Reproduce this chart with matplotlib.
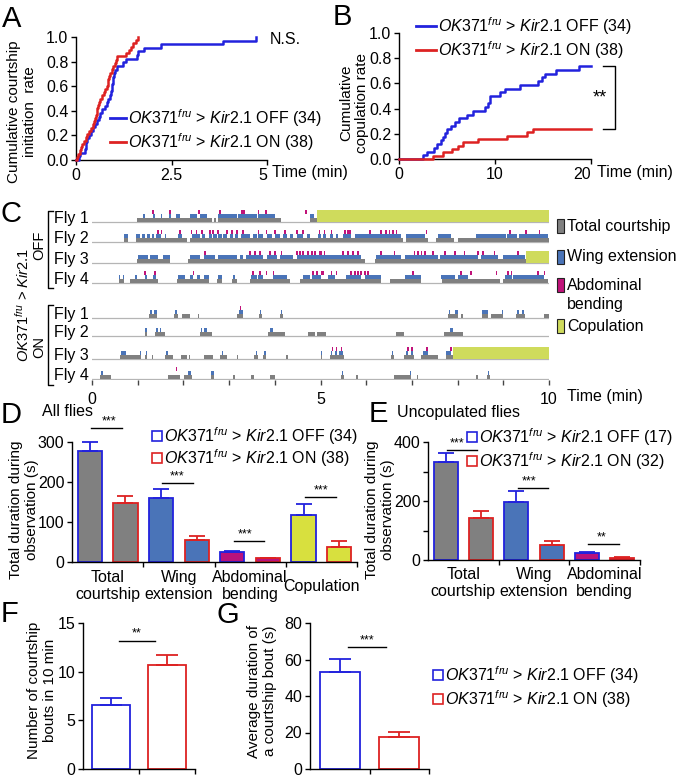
import matplotlib
matplotlib.use('Agg')
import matplotlib.pyplot as plt
import numpy as np
from matplotlib.patches import Rectangle
from matplotlib.lines import Line2D

plt.rcParams['font.family'] = ['Liberation Sans', 'DejaVu Sans']
plt.rcParams['mathtext.fontset'] = 'custom'
plt.rcParams['mathtext.rm'] = 'Liberation Sans'
plt.rcParams['mathtext.it'] = 'Liberation Sans:italic'
plt.rcParams['mathtext.bf'] = 'Liberation Sans:bold'

# ---------------- data ----------------
# Panel A: courtship initiation latencies (min)
A_off = [0.08, 0.10, 0.24, 0.25, 0.27, 0.30, 0.35, 0.40, 0.45, 0.50, 0.55, 0.60, 0.63, 0.67,
         0.75, 0.80, 0.85, 0.88, 0.91, 0.94, 0.95, 0.96, 0.98, 0.99, 1.03, 1.07, 1.22, 1.30,
         1.60, 1.63, 1.77, 2.22, 3.85, 4.72]
A_on = [0.03, 0.06, 0.10, 0.13, 0.17, 0.20, 0.25, 0.30, 0.35, 0.40, 0.45, 0.48, 0.50, 0.52,
        0.54, 0.56, 0.58, 0.60, 0.63, 0.68, 0.72, 0.76, 0.80, 0.83, 0.85, 0.87, 0.90, 0.95,
        0.98, 1.01, 1.05, 1.07, 1.30, 1.40, 1.45, 1.50, 1.58, 1.63]
N_off, N_on = 34, 38
# Panel B: copulation latencies (min)
B_off = [2.5, 2.9, 3.6, 4.0, 4.4, 4.6, 4.8, 5.0, 5.4, 5.8, 6.2, 7.05, 7.7, 9.0, 9.3, 9.5, 9.5,
         10.5, 11.0, 12.6, 14.5, 14.9, 15.2, 16.4, 18.7]
B_on = [3.5, 4.6, 5.5, 6.1, 6.7, 8.2, 11.2, 13.3, 14.0]

# Panel C: ethograms (min)
C_total = [
    [(0.98, 2.62), (2.66, 2.72), (2.75, 4.13), (4.77, 4.93)],
    [(0.69, 0.79), (0.96, 2.07), (2.14, 6.81), (6.88, 7.35), (7.53, 7.93), (8.0, 10.0)],
    [(0.98, 1.71), (2.11, 5.97), (6.19, 9.5)],
    [(0.58, 0.69), (0.83, 1.45), (1.87, 2.55), (2.73, 2.85), (3.06, 3.17), (3.46, 4.33),
     (4.55, 6.33), (6.51, 7.21), (7.65, 8.92), (8.99, 9.98)],
    [(1.25, 1.42), (1.80, 1.89), (1.98, 2.14), (2.31, 2.35), (3.18, 3.31), (3.66, 3.71),
     (4.11, 4.17), (7.79, 8.01), (8.08, 8.12), (8.54, 8.67), (8.74, 8.99), (9.27, 9.47), (9.89, 10.0)],
    [(1.15, 1.21), (1.38, 1.60), (2.36, 2.62), (3.86, 4.22), (4.72, 4.88), (4.92, 5.13),
     (6.66, 6.83), (7.70, 8.12)],
    [(0.61, 1.07), (1.17, 1.21), (1.31, 1.34), (1.60, 1.77), (1.94, 2.07), (2.12, 2.14),
     (2.46, 2.64), (2.80, 2.96), (3.17, 3.19), (3.55, 3.63), (3.75, 3.81), (4.24, 4.28),
     (5.01, 5.04), (5.20, 5.51), (6.55, 6.61), (6.83, 7.04), (7.21, 7.57), (7.74, 7.90)],
    [(0.18, 0.41), (1.66, 1.93), (2.02, 2.18), (2.60, 2.67), (3.09, 3.14), (3.49, 3.54),
     (3.89, 4.00), (5.44, 5.51), (5.77, 5.83), (6.61, 6.99), (7.11, 7.13), (8.41, 8.45), (8.64, 8.70)],
]
C_wing = [
    [(1.12, 1.16), (1.34, 1.38), (1.50, 1.54), (1.69, 1.73), (1.84, 1.93), (2.14, 2.29), (2.36, 2.52),
     (2.76, 3.17), (3.20, 3.60), (3.64, 4.00), (4.77, 4.86)],
    [(0.69, 0.79), (0.96, 1.05), (1.09, 1.16), (1.20, 1.27), (1.31, 1.36), (1.41, 1.52), (1.60, 1.63),
     (1.89, 1.96), (2.18, 2.36), (2.40, 2.47), (2.55, 2.62), (2.65, 2.73), (2.76, 2.84), (2.87, 2.95),
     (3.02, 3.09), (3.13, 3.20), (3.27, 3.46), (3.53, 3.60), (3.64, 3.75), (3.82, 3.93), (4.00, 4.11),
     (4.19, 4.26), (4.33, 4.40), (4.48, 4.62), (4.70, 4.77), (4.95, 5.02), (5.05, 5.13), (5.20, 5.27),
     (5.35, 5.38), (5.49, 5.67), (5.75, 6.77), (6.88, 7.28), (7.57, 7.86), (8.41, 9.06), (9.08, 9.31),
     (9.34, 9.98)],
    [(1.01, 1.23), (1.27, 1.45), (1.56, 1.71), (2.14, 2.36), (2.44, 2.69), (2.76, 3.17), (3.24, 3.31),
     (3.38, 3.75), (3.82, 4.04), (4.11, 4.40), (4.48, 5.89), (6.22, 6.77), (6.84, 7.57), (7.61, 8.45),
     (8.52, 8.88), (8.99, 9.47)],
    [(0.58, 0.62), (0.67, 0.70), (0.94, 0.98), (1.16, 1.20), (1.33, 1.41), (1.89, 2.03), (2.14, 2.22),
     (2.29, 2.36), (2.44, 2.55), (2.76, 2.84), (3.09, 3.13), (3.49, 3.60), (3.64, 3.75), (3.97, 4.26),
     (4.62, 4.77), (4.81, 5.02), (5.16, 5.31), (5.56, 5.89), (5.97, 6.33), (6.84, 7.21), (7.64, 7.94),
     (8.01, 8.23), (9.03, 9.18), (9.21, 9.90)],
    [(1.27, 1.31), (1.36, 1.42), (1.82, 1.87), (3.22, 3.30), (3.67, 3.70), (4.13, 4.16), (7.81, 7.84),
     (7.94, 8.00), (8.54, 8.67), (8.97, 9.00), (9.30, 9.34), (9.41, 9.45)],
    [(1.16, 1.20), (1.41, 1.44), (1.49, 1.52), (2.38, 2.41), (2.44, 2.47), (2.48, 2.51), (3.90, 3.95),
     (7.83, 7.90)],
    [(0.63, 0.74), (1.04, 1.07), (1.18, 1.20), (1.63, 1.66), (2.84, 2.87), (3.58, 3.62), (3.77, 3.80),
     (5.01, 5.04), (5.22, 5.26), (5.31, 5.36), (5.40, 5.49), (6.56, 6.59), (6.88, 6.91), (6.97, 7.02),
     (7.24, 7.35), (7.75, 7.86)],
    [(0.20, 0.23), (2.11, 2.16), (2.61, 2.66), (5.46, 5.50), (6.95, 6.99), (8.66, 8.69)],
]
C_abd = [
    [1.34, 1.71, 2.34, 2.80, 3.28, 3.32, 3.64, 3.81, 4.68],
    [1.45, 1.52, 1.93, 2.18, 2.29, 2.40, 2.58, 2.65, 2.76, 2.95, 3.06, 3.17, 3.31, 3.64, 3.82, 4.00,
     4.22, 4.48, 4.62, 4.98, 5.09, 5.24, 5.53, 5.60, 5.64, 6.08, 6.33, 6.44, 6.51, 6.59, 6.66, 7.32,
     9.14, 9.50, 9.79],
    [2.47, 3.46, 3.57, 3.68, 3.89, 4.00, 4.15, 4.48, 4.55, 4.62, 4.73, 4.81, 4.88, 4.99, 5.02, 5.09,
     5.49, 5.60, 5.71, 5.82, 6.33, 6.62, 7.06, 7.13, 7.21, 7.28, 7.46, 7.72, 7.94, 8.15, 8.45, 8.56,
     8.81, 9.32],
    [1.16, 1.38, 2.22, 3.53, 3.68, 3.82, 3.97, 4.84, 4.92, 5.03, 5.05, 5.24, 5.35, 5.67, 5.75, 5.82,
     5.89, 5.97, 6.04, 7.02, 8.08, 8.30, 8.85, 9.10, 9.18, 9.76, 9.90],
    [3.25],
    [],
    [5.26, 5.35, 5.46, 6.91, 7.00, 7.33, 7.86],
    [1.85],
]
C_cop = [[(4.93, 10.0)], [], [(9.5, 10.0)], [], [], [], [(7.90, 10.0)], []]
FLY_NAMES = ['Fly 1', 'Fly 2', 'Fly 3', 'Fly 4', 'Fly 1', 'Fly 2', 'Fly 3', 'Fly 4']

# Panel D: all flies (s)
CATS_D = ['Total\ncourtship', 'Wing\nextension', 'Abdominal\nbending', 'Copulation']
D_off = [278, 160, 26, 118]
D_off_err = [22, 22, 2.5, 26]
D_on = [147, 56, 9, 37]
D_on_err = [18, 9, 2, 15]
D_sig = ['***', '***', '***', '***']
D_sig_y = [335, 197, 53, 163]
D_sig_x = [0.52, 1.48, 2.43, 3.49]
# Panel E: uncopulated flies (s)
CATS_E = ['Total\ncourtship', 'Wing\nextension', 'Abdominal\nbending']
E_off = [331, 196, 23]
E_off_err = [33, 37, 4]
E_on = [143, 51, 7]
E_on_err = [22, 13, 2]
E_sig = ['***', '***', '**']
E_sig_y = [373, 244, 54]
E_sig_x = [0.41, 1.43, 2.45]
# Panel F: number of bouts
F_vals = [6.6, 10.7]
F_err = [0.7, 1.05]
# Panel G: average bout duration (s)
G_vals = [53.2, 17.8]
G_err = [7.2, 2.7]

LBL_OFF = r'$\mathit{OK371}^{\mathit{fru}}$ > $\mathit{Kir2.1}$ OFF'
LBL_ON = r'$\mathit{OK371}^{\mathit{fru}}$ > $\mathit{Kir2.1}$ ON'

# ---------------- style ----------------
BLUE = '#2222dd'
RED = '#dd2222'
GRAY = '#808080'
WBLUE = '#4a74b8'
MAG = '#c0137a'
COP = '#cfdb5c'
FILLS = [GRAY, WBLUE, '#b8127c', '#d8e03e']
FS = 11.5
FSR = 11

W, H = 677, 778
fig = plt.figure(figsize=(W / 100, H / 100), dpi=100)


def fx(x):
    return x / W


def fy(y):
    return 1 - y / H


def add_ax(x0, y0, x1, y1):
    return fig.add_axes([x0 / W, 1 - y1 / H, (x1 - x0) / W, (y1 - y0) / H])


def ftext(x, y, s, **kw):
    kw.setdefault('fontsize', FS)
    fig.text(x / W, 1 - y / H, s, **kw)


def style(ax):
    for s in ['top', 'right']:
        ax.spines[s].set_visible(False)
    for s in ['left', 'bottom']:
        ax.spines[s].set_linewidth(1.0)
    ax.tick_params(direction='out', length=3.5, width=1.0, labelsize=FS, pad=2)


def cum(events, n, tend=None):
    t = np.concatenate([[0.0], np.sort(events)])
    y = np.arange(len(t)) / n
    if tend is not None:
        t = np.append(t, tend)
        y = np.append(y, y[-1])
    return t, y


def letter(x, y, s):
    ftext(x, y, s, fontsize=21, va='baseline', ha='left')


def line_legend(x0, x1, y, color, text):
    fig.add_artist(Line2D([fx(x0), fx(x1)], [fy(y), fy(y)], color=color, lw=2.0))
    ftext(x1 + 2, y, text, va='center', ha='left')


def sq_legend(x, y, color, text, size=10):
    fig.add_artist(Rectangle((fx(x), fy(y + size / 2)), size / W, size / H, transform=fig.transFigure,
                             facecolor='white', edgecolor=color, lw=1.2))
    ftext(x + size + 2, y, text, va='center', ha='left')


# ---------------- Panel A ----------------
axA = add_ax(76, 37, 267, 160)
style(axA)
t, y = cum(A_off, N_off)
axA.step(t, y, where='post', color=BLUE, lw=1.8, clip_on=False, zorder=3)
t, y = cum(A_on, N_on)
axA.step(t, y, where='post', color=RED, lw=1.8, clip_on=False, zorder=3)
axA.set_xlim(0, 5)
axA.set_ylim(0, 1)
axA.set_xticks([0, 2.5, 5], ['0', '2.5', '5'])
axA.set_yticks(np.arange(0, 1.01, 0.2), ['%.1f' % v for v in np.arange(0, 1.01, 0.2)])
axA.get_xticklabels()[-1].set_horizontalalignment('right')
letter(2, 27, 'A')
ftext(22, 112, 'Cumulative courtship\ninitiation  rate', rotation=90, ha='center', va='center',
      linespacing=1.1, fontsize=FSR)
ftext(272, 172, 'Time (min)', ha='left', va='center')
ftext(270, 40, 'N.S.', ha='left', va='center')
line_legend(110, 126, 118, BLUE, LBL_OFF + ' (%d)' % N_off)
line_legend(110, 126, 142, RED, LBL_ON + ' (%d)' % N_on)

# ---------------- Panel B ----------------
axB = add_ax(399, 33, 591, 159)
style(axB)
t, y = cum(B_off, N_off, 20)
axB.step(t, y, where='post', color=BLUE, lw=1.8, clip_on=False, zorder=3)
t, y = cum(B_on, N_on, 20)
axB.step(t, y, where='post', color=RED, lw=1.8, clip_on=False, zorder=3)
axB.set_xlim(0, 20)
axB.set_ylim(0, 1)
axB.set_xticks([0, 10, 20], ['0', '10', '20'])
axB.set_yticks(np.arange(0, 1.01, 0.2), ['%.1f' % v for v in np.arange(0, 1.01, 0.2)])
axB.get_xticklabels()[-1].set_horizontalalignment('right')
yo, yn = len(B_off) / N_off, len(B_on) / N_on
axB.plot([21.3, 22.5, 22.5, 21.3], [yo, yo, yn, yn], color='k', lw=1.0, clip_on=False)
axB.text(20.9, (yo + yn) / 2, '**', ha='center', va='center', fontsize=13)
letter(333, 25, 'B')
ftext(354, 103, 'Cumulative\ncopulation rate', rotation=90, ha='center', va='center', linespacing=1.1,
      fontsize=FSR)
ftext(597, 172, 'Time (min)', ha='left', va='center')
line_legend(416, 436, 26, BLUE, LBL_OFF + ' (%d)' % N_off)
line_legend(416, 436, 50, RED, LBL_ON + ' (%d)' % N_on)

# ---------------- Panel C ----------------
ROW_Y = [222, 242, 263, 283, 318, 336, 359, 379]
axC = add_ax(92, 205, 549, 380)
axC.set_xlim(0, 10)
axC.set_ylim(380, 205)
for s in axC.spines.values():
    s.set_visible(False)
axC.set_yticks([])
for i, y0 in enumerate(ROW_Y):
    axC.plot([0, 10], [y0, y0], color='#b5b5b5', lw=0.9, zorder=1)
    axC.broken_barh([(a, b - a) for a, b in C_total[i]], (y0 - 4, 4), facecolors=GRAY, zorder=2)
    axC.broken_barh([(a, b - a) for a, b in C_wing[i]], (y0 - 8, 4), facecolors=WBLUE, zorder=2)
    if C_abd[i]:
        axC.broken_barh([(a - 0.018, 0.036) for a in C_abd[i]], (y0 - 12, 4), facecolors=MAG, zorder=2)
    if C_cop[i]:
        axC.broken_barh([(a, b - a) for a, b in C_cop[i]], (y0 - 12, 12), facecolors=COP, zorder=2)
    ftext(89, y0 + 1, FLY_NAMES[i], ha='right', va='baseline')
axC.set_xticks([0, 5, 10], ['0', '5', '10'])
axC.set_xticks([1, 2, 3, 4, 6, 7, 8, 9], minor=True)
axC.tick_params(axis='x', which='both', direction='out', length=3.5, width=1.0, color='#444444',
                labelsize=FS, pad=5)
ftext(567, 396, 'Time (min)', ha='left', va='center')
letter(1, 222, 'C')
# brackets
for (ya, yb) in [(211, 288), (305, 385)]:
    fig.add_artist(Line2D([fx(53), fx(48), fx(48), fx(53)], [fy(ya), fy(ya), fy(yb), fy(yb)],
                          color='k', lw=1.0))
ftext(23, 305, r'$\mathit{OK371}^{\mathit{fru}}$ > $\mathit{Kir2.1}$', rotation=90, ha='center',
      va='center', fontsize=10.5)
ftext(39, 245, 'OFF', rotation=90, ha='center', va='center', fontsize=10.5)
ftext(39, 347, 'ON', rotation=90, ha='center', va='center', fontsize=10.5)
# right legend
for (yy, col, txt) in [(226, GRAY, 'Total courtship'), (257, WBLUE, 'Wing extension'),
                       (285, MAG, 'Abdominal'), (326, COP, 'Copulation')]:
    fig.add_artist(Rectangle((fx(557), fy(yy + 7)), 7 / W, 14 / H, transform=fig.transFigure,
                             facecolor=col, edgecolor='#222222', lw=0.8))
    ftext(567, yy, txt, ha='left', va='center')
ftext(567, 304, 'bending', ha='left', va='center')


# ---------------- Panels D / E ----------------
def bar_panel(ax, off, off_err, on, on_err, cats, sig, sig_x, sig_y, ymax, yticks, ylabels, cat_y):
    style(ax)
    n = len(cats)
    for i in range(n):
        for xc, v, e, ec in [(i + 0.25, off[i], off_err[i], BLUE), (i + 0.75, on[i], on_err[i], RED)]:
            ax.bar(xc, v, width=0.34, color=FILLS[i], edgecolor=ec, lw=1.3, zorder=2)
            ax.errorbar(xc, v, yerr=[[0], [e]], fmt='none', ecolor=ec, elinewidth=1.3, capsize=5.5,
                        capthick=1.3, zorder=3, clip_on=False)
        ax.plot([i + 0.27, i + 0.70], [sig_y[i], sig_y[i]], color='k', lw=1.0, clip_on=False)
        ax.text(sig_x[i], sig_y[i] + ymax * 0.005, sig[i], ha='center', va='bottom', fontsize=9)
        ax.text(i + 0.5, cat_y, cats[i], transform=ax.get_xaxis_transform(), ha='center', va='center',
                fontsize=FS, linespacing=1.2)
    ax.set_xlim(0, n)
    ax.set_ylim(0, ymax)
    ax.set_xticks(range(1, n + 1), [''] * n)
    ax.set_yticks(yticks, ylabels)


axD = add_ax(72, 442, 357, 562)
bar_panel(axD, D_off, D_off_err, D_on, D_on_err, CATS_D, D_sig, D_sig_x, D_sig_y, 300,
          [0, 100, 200, 300], ['0', '100', '200', '300'], -0.2)
letter(1, 423, 'D')
ftext(42, 412, 'All flies', ha='left', va='center')
ftext(24, 510, 'Total duration during\nobservation (s)', rotation=90, ha='center', va='center',
      linespacing=1.1, fontsize=FSR)
sq_legend(152, 436, BLUE, LBL_OFF + ' (34)')
sq_legend(152, 458, RED, LBL_ON + ' (38)')

axE = add_ax(428, 442, 640, 560)
bar_panel(axE, E_off, E_off_err, E_on, E_on_err, CATS_E, E_sig, E_sig_x, E_sig_y, 400,
          [0, 200, 400], ['0', '200', '400'], -0.195)
axE.set_yticks([100, 300], minor=True)
axE.tick_params(axis='y', which='minor', length=3.5, width=1.0)
letter(369, 422, 'E')
ftext(397, 413, 'Uncopulated flies', ha='left', va='center')
ftext(380, 510, 'Total duration during\nobservation (s)', rotation=90, ha='center', va='center',
      linespacing=1.1, fontsize=FSR)
sq_legend(467, 437, BLUE, LBL_OFF + ' (17)')
sq_legend(467, 461, RED, LBL_ON + ' (32)')


# ---------------- Panels F / G ----------------
def open_bars(ax, vals, errs, ymax, yticks, sig, sig_y):
    style(ax)
    for i, (v, e, ec) in enumerate(zip(vals, errs, [BLUE, RED])):
        ax.bar(i + 0.5, v, width=0.68, color='white', edgecolor=ec, lw=1.3, zorder=2)
        ax.errorbar(i + 0.5, v, yerr=[[0], [e]], fmt='none', ecolor=ec, elinewidth=1.3, capsize=8,
                    capthick=1.3, zorder=3)
    ax.plot([0.64, 1.28], [sig_y, sig_y], color='k', lw=1.0, clip_on=False)
    ax.text(0.96, sig_y + ymax * 0.005, sig, ha='center', va='bottom', fontsize=9)
    ax.set_xlim(0, 2)
    ax.set_ylim(0, ymax)
    ax.set_xticks([1, 2], ['', ''])
    ax.set_yticks(yticks, [str(v) for v in yticks])


axF = add_ax(83, 623, 195, 769)
open_bars(axF, F_vals, F_err, 15, [0, 5, 10, 15], '**', 13.2)
letter(1, 622, 'F')
ftext(42, 690, 'Number of courtship\nbouts in 10 min', rotation=90, ha='center', va='center',
      linespacing=1.1, fontsize=FSR)

axG = add_ax(310, 623, 429, 769)
open_bars(axG, G_vals, G_err, 80, [0, 20, 40, 60, 80], '***', 67)
letter(216, 623, 'G')
ftext(262, 691, 'Average duration of\na courtship bout (s)', rotation=90, ha='center', va='center',
      linespacing=1.1, fontsize=FSR)
sq_legend(433, 675, BLUE, LBL_OFF + ' (34)')
sq_legend(433, 699, RED, LBL_ON + ' (38)')

fig.savefig('out.png', dpi=100)
